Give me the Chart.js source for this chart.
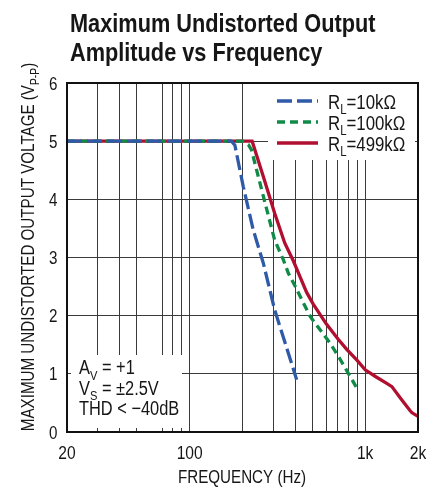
<!DOCTYPE html>
<html>
<head>
<meta charset="utf-8">
<script src="https://cdn.jsdelivr.net/npm/chart.js@4.4.1/dist/chart.umd.min.js"></script>
<style>
  html, body { margin: 0; padding: 0; background: #fff; }
  #wrap { width: 442px; height: 490px; }
</style>
</head>
<body>
<div id="wrap"><canvas id="chart" width="442" height="490"></canvas></div>
<script>
const FONT = '"Liberation Sans", Arial, sans-serif';
const SX = 0.82;          // horizontal squeeze to get a condensed look
const TEXT = '#161616';

// series: frequency (Hz) / max undistorted output (Vp-p)
const freq10k = [20, 173, 181, 202, 230, 263, 305, 350, 407];
const volt10k = [5, 5, 4.93, 4.22, 3.48, 2.9, 2.1, 1.53, 0.9];

const freq100k = [20, 200, 216, 225, 263, 305, 342, 365, 400, 485, 630, 720, 895];
const volt100k = [5, 5, 4.94, 4.85, 4.05, 3.3, 2.96, 2.73, 2.5, 1.99, 1.53, 1.25, 0.76];

const freq499k = [20, 227, 263, 305, 348, 390, 425, 464, 506, 600, 700, 785, 900, 1000, 1150, 1320, 1420, 1610, 1800, 1850, 2000];
const volt499k = [5, 5, 4.39, 3.76, 3.25, 2.94, 2.67, 2.4, 2.2, 1.86, 1.6, 1.42, 1.23, 1.07, 0.95, 0.84, 0.78, 0.56, 0.37, 0.33, 0.27];

const seriesLabels = ['R_{L}=10kΩ', 'R_{L}=100kΩ', 'R_{L}=499kΩ'];
const seriesColors = ['#2f5aa8', '#0f8a47', '#b00f30'];
const seriesDash = [[15, 5], [8, 5], []];

// grid lines on the frequency axis (the original has no 60Hz line)
const gridFreqs = [20, 30, 40, 50, 70, 80, 90, 100, 200, 300, 400, 500, 600, 700, 800, 900, 1000, 2000];
const xLabelValues = [20, 100, 1000, 2000];
const xLabelTexts = ['20', '100', '1k', '2k'];
const yLabelValues = [0, 1, 2, 3, 4, 5, 6];

const titleLines = ['Maximum Undistorted Output', 'Amplitude vs Frequency'];
const yTitle = 'MAXIMUM UNDISTORTED OUTPUT VOLTAGE (V_{P-P})';
const xTitle = 'FREQUENCY (Hz)';
const noteLines = ['A_{V} = +1', 'V_{S} = ±2.5V', 'THD < −40dB'];

function toPoints(xs, ys) {
  return xs.map((x, i) => ({ x: x, y: ys[i] }));
}

// split "R_{L}=.." into normal / subscript pieces
function parts(str) {
  const out = [];
  const re = /_\{([^}]*)\}/g;
  let last = 0, m;
  while ((m = re.exec(str))) {
    if (m.index > last) out.push({ t: str.slice(last, m.index) });
    out.push({ t: m[1], sub: true });
    last = re.lastIndex;
  }
  if (last < str.length) out.push({ t: str.slice(last) });
  return out;
}

function fontFor(p, size, bold) {
  return (bold ? 'bold ' : '') + (p.sub ? size * 0.68 : size) + 'px ' + FONT;
}

function richWidth(ctx, str, size, bold) {
  let w = 0;
  parts(str).forEach(p => {
    ctx.font = fontFor(p, size, bold);
    w += ctx.measureText(p.t).width * SX;
  });
  return w;
}

function drawRich(ctx, str, x, y, size, align, bold) {
  if (align === 'center') x -= richWidth(ctx, str, size, bold) / 2;
  if (align === 'right') x -= richWidth(ctx, str, size, bold);
  ctx.textAlign = 'left';
  ctx.textBaseline = 'alphabetic';
  parts(str).forEach(p => {
    ctx.font = fontFor(p, size, bold);
    ctx.save();
    ctx.translate(x, y + (p.sub ? size * 0.28 : 0));
    ctx.scale(SX, 1);
    ctx.fillText(p.t, 0, 0);
    ctx.restore();
    x += ctx.measureText(p.t).width * SX;
  });
}

const decorations = {
  id: 'decorations',
  beforeDatasetsDraw(chart) {
    const ctx = chart.ctx;
    const a = chart.chartArea;
    ctx.save();
    ctx.fillStyle = '#fff';
    // legend box and note box hide the grid behind them
    ctx.fillRect(268, a.top, a.right - 3 - 268, 160 - a.top);
    ctx.fillRect(a.left + 4, 355, 182 - a.left - 4, a.bottom - 4 - 355);
    ctx.restore();
  },
  afterDatasetsDraw(chart) {
    const ctx = chart.ctx;
    const a = chart.chartArea;
    const xs = chart.scales.x;
    const ys = chart.scales.y;
    ctx.save();
    ctx.strokeStyle = '#111';
    ctx.lineWidth = 2;
    ctx.strokeRect(a.left, a.top, a.right - a.left, a.bottom - a.top);

    ctx.fillStyle = TEXT;
    // tick labels, placed through the chart scales
    xLabelValues.forEach((v, i) => {
      drawRich(ctx, xLabelTexts[i], xs.getPixelForValue(v), 458.5, 19, 'center');
    });
    yLabelValues.forEach(v => {
      drawRich(ctx, String(v), 57.5, ys.getPixelForValue(v) + 6.6, 18.5, 'right');
    });

    // legend
    chart.data.datasets.forEach((ds, i) => {
      const y = 101 + i * 21;
      ctx.beginPath();
      ctx.setLineDash(ds.borderDash);
      ctx.strokeStyle = ds.borderColor;
      ctx.lineWidth = 3.5;
      ctx.moveTo(277, y);
      ctx.lineTo(318, y);
      ctx.stroke();
      ctx.setLineDash([]);
      ctx.fillStyle = TEXT;
      drawRich(ctx, ds.label, 328, y + 7.5, 20.5);
    });

    // conditions note
    ctx.fillStyle = TEXT;
    noteLines.forEach((t, i) => drawRich(ctx, t, 79, 374 + i * 20.5, 20));

    // titles
    titleLines.forEach((t, i) => drawRich(ctx, t, 70, 32 + i * 29, 26.5, 'left', true));

    drawRich(ctx, xTitle, 242, 483, 18.5, 'center');

    ctx.translate(33.5, 247);
    ctx.rotate(-Math.PI / 2);
    drawRich(ctx, yTitle, 0, 0, 18.5, 'center');
    ctx.restore();
  }
};

const datasets = [
  { label: seriesLabels[0], data: toPoints(freq10k, volt10k) },
  { label: seriesLabels[1], data: toPoints(freq100k, volt100k) },
  { label: seriesLabels[2], data: toPoints(freq499k, volt499k) }
].map((d, i) => Object.assign(d, {
  borderColor: seriesColors[i],
  borderDash: seriesDash[i],
  borderWidth: 3.3,
  pointRadius: 0,
  tension: 0,
  fill: false
}));

new Chart(document.getElementById('chart'), {
  type: 'line',
  data: { datasets: datasets },
  options: {
    responsive: false,
    animation: false,
    layout: { padding: { top: 83, right: 24, left: 0, bottom: 0 } },
    plugins: { legend: { display: false }, tooltip: { enabled: false } },
    scales: {
      x: {
        type: 'logarithmic',
        min: 20,
        max: 2000,
        afterBuildTicks: s => { s.ticks = gridFreqs.map(v => ({ value: v })); },
        afterFit: s => { s.height = 58; },
        ticks: { display: false },
        grid: { color: '#3a3a3a', lineWidth: 1, drawTicks: false },
        border: { display: false }
      },
      y: {
        min: 0,
        max: 6,
        afterFit: s => { s.width = 67; },
        ticks: { display: false, stepSize: 1 },
        grid: { color: '#3a3a3a', lineWidth: 1, drawTicks: false },
        border: { display: false }
      }
    }
  },
  plugins: [decorations]
});
</script>
</body>
</html>
